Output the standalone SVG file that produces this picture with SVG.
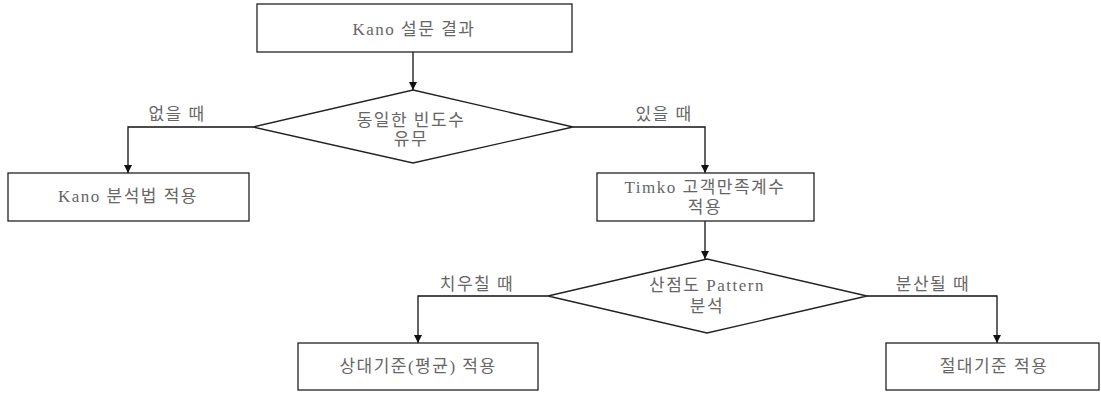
<svg xmlns="http://www.w3.org/2000/svg" width="1101" height="393" viewBox="0 0 1101 393">
<style>
.box{fill:#fff;stroke:#222;stroke-width:1.3}
.t{font-family:"Liberation Serif","Noto Sans CJK KR",serif;font-size:17px;fill:#666;text-anchor:middle;dominant-baseline:central;letter-spacing:1.5px}
.c{fill:none;stroke:#111;stroke-width:1.3}
</style>
<defs>
<marker id="ah" viewBox="0 0 10 10" refX="10" refY="5" markerWidth="8" markerHeight="10" markerUnits="userSpaceOnUse" orient="auto">
<path d="M0,0 L10,5 L0,10 z" fill="#111"/>
</marker>
</defs>
<rect width="1101" height="393" fill="#fff"/>
<g id="connectors">
<path class="c" d="M413,52 V90" marker-end="url(#ah)"/>
<path class="c" d="M253,127 H128 V173" marker-end="url(#ah)"/>
<path class="c" d="M573,127 H705 V173" marker-end="url(#ah)"/>
<path class="c" d="M705,221 V259" marker-end="url(#ah)"/>
<path class="c" d="M548,296 H418 V343" marker-end="url(#ah)"/>
<path class="c" d="M867,296 H997 V343" marker-end="url(#ah)"/>
<text class="t" x="177" y="114">없을 때</text>
<text class="t" x="664" y="114">있을 때</text>
<text class="t" x="477" y="284">치우칠 때</text>
<text class="t" x="933" y="284">분산될 때</text>
</g>
<g id="n1">
<rect class="box" x="257" y="4" width="315" height="48"/>
<text class="t" x="414" y="29">Kano 설문 결과</text>
</g>
<g id="n2">
<polygon class="box" points="413,90 573,127 413,163 253,127"/>
<text class="t" x="411" y="120">동일한 빈도수</text>
<text class="t" x="411" y="139">유무</text>
</g>
<g id="n3">
<rect class="box" x="8" y="173" width="241" height="48"/>
<text class="t" x="128" y="196">Kano 분석법 적용</text>
</g>
<g id="n4">
<rect class="box" x="597" y="173" width="217" height="48"/>
<text class="t" x="705" y="187">Timko 고객만족계수</text>
<text class="t" x="705" y="207">적용</text>
</g>
<g id="n5">
<polygon class="box" points="707,259 867,296 707,333 548,296"/>
<text class="t" x="707" y="285">산점도 Pattern</text>
<text class="t" x="707" y="306">분석</text>
</g>
<g id="n6">
<rect class="box" x="298" y="343" width="240" height="47"/>
<text class="t" x="418" y="366">상대기준(평균) 적용</text>
</g>
<g id="n7">
<rect class="box" x="886" y="343" width="213" height="47"/>
<text class="t" x="994" y="366">절대기준 적용</text>
</g>
</svg>
